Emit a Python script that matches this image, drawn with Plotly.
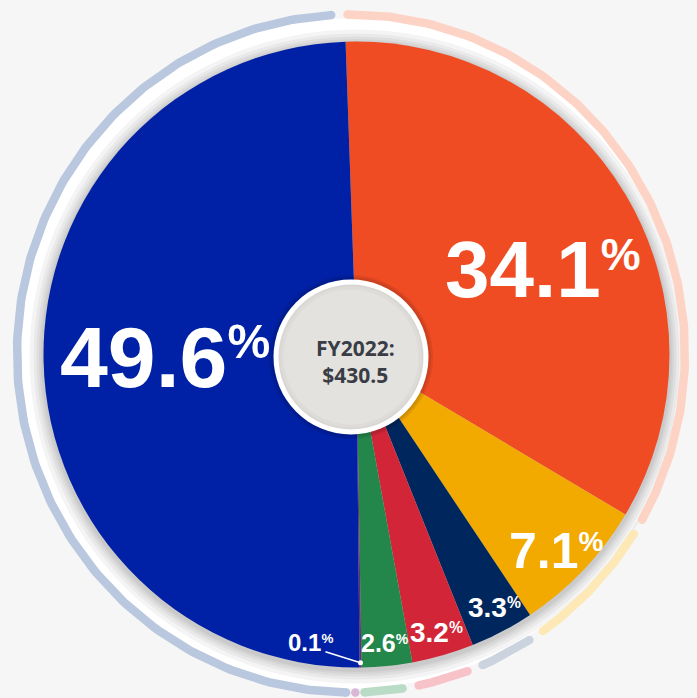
import numpy as np
import plotly.graph_objects as go

# ---------------- data ----------------
segments = ["s1", "s2", "s3", "s4", "s5", "s6", "s7"]
values = [34.1, 7.1, 3.3, 3.2, 2.6, 0.1, 49.6]
value_labels = ["34.1", "7.1", "3.3", "3.2", "2.6", "0.1", "49.6"]
center_lines = ["FY2022:", "$430.5"]

# ---------------- style ----------------
slice_colors = ["#f04c24", "#f2a900", "#00275d", "#d22638", "#23874b", "#6b2d6e", "#0021a5"]
ring_colors = ["#fdd3c5", "#fde8b6", "#cbd3df", "#f7c3c9", "#badcc6", "#d8b8d5", "#b9c8de"]
label_sizes = [80, 50, 28, 28, 25, 24, 86]
label_rfrac = [0.654, 0.895, 0.921, 0.925, 0.926, None, 0.613]
label_dang = [6, 1, -0.8, 0, 0, 0, 0.4]
LABEL_FONT = "Liberation Sans, Arial, sans-serif"

W, H = 697, 698
CX, CY, R = 356.5, 354.5, 313.0
ROT = -2.0
RCX, RCY, RX, RY = 351.0, 353.5, 334.0, 339.0
RING_W = 8.5
GAP = 1.4

total = float(sum(values))
cum = np.concatenate([[0.0], np.cumsum(values)])
a_start = ROT + 360.0 * cum[:-1] / total
a_end = ROT + 360.0 * cum[1:] / total
a_mid = (a_start + a_end) / 2.0


def pie_pt(ang, r):
    t = np.radians(ang)
    return CX + r * np.sin(t), CY - r * np.cos(t)


def ring_pt(ang):
    t = np.radians(ang)
    return RCX + RX * np.sin(t), RCY - RY * np.cos(t)


fig = go.Figure()
shapes = []

# white halo + soft shadow behind the pie
shapes.append(dict(type="circle", xref="x", yref="y", layer="below",
                   x0=RCX - RX + 4, x1=RCX + RX - 4, y0=RCY - RY + 4, y1=RCY + RY - 4,
                   fillcolor="#ffffff", line=dict(width=0)))
for dr in [14, 10, 7, 4.5, 2.5]:
    shapes.append(dict(type="circle", xref="x", yref="y", layer="below",
                       x0=CX - R - dr, x1=CX + R + dr, y0=CY + 2 - R - dr, y1=CY + 2 + R + dr,
                       fillcolor="rgba(0,0,0,0.045)", line=dict(width=0)))

# outer ring arcs derived from the slice angles
for i in range(len(values)):
    s, e = a_start[i] + GAP, a_end[i] - GAP
    if e > s:
        angs = np.linspace(s, e, 200)
        xs, ys = ring_pt(angs)
        fig.add_trace(go.Scatter(x=xs, y=ys, mode="lines", hoverinfo="skip", showlegend=False,
                                 line=dict(color=ring_colors[i], width=RING_W)))
        cx_, cy_ = ring_pt(np.array([s, e]))
    else:
        cx_, cy_ = ring_pt(np.array([a_mid[i]]))
    fig.add_trace(go.Scatter(x=cx_, y=cy_, mode="markers", hoverinfo="skip", showlegend=False,
                             marker=dict(color=ring_colors[i], size=RING_W, line=dict(width=0))))

# the pie
fig.add_trace(go.Pie(
    values=values, labels=segments, sort=False, direction="clockwise", rotation=ROT,
    marker=dict(colors=slice_colors, line=dict(width=0)),
    textinfo="none", hoverinfo="skip", showlegend=False,
    domain=dict(x=[(CX - R) / W, (CX + R) / W], y=[1 - (CY + R) / H, 1 - (CY - R) / H]),
))

# center badge
BX, BY = 351.0, 357.0
for rr, col in [(82, "rgba(0,0,0,0.08)"), (80, "rgba(0,0,0,0.08)"), (77.5, "#ffffff"),
                (72.5, "#d8d7d3"), (70.5, "#dedcd9"), (67.5, "#e3e2de")]:
    shapes.append(dict(type="circle", xref="x", yref="y", layer="above",
                       x0=BX - rr, x1=BX + rr, y0=BY - rr, y1=BY + rr,
                       fillcolor=col, line=dict(width=0)))

annotations = []
for i, lab in enumerate(value_labels):
    fs = label_sizes[i]
    txt = f"<b>{lab}<span style='font-size:{0.8*fs:.1f}px'><sup>%</sup></span></b>"
    if label_rfrac[i] is None:
        # small slice: label outside with a leader line
        px, py = pie_pt(a_mid[i], R * 0.985)
        tx, ty = px - 50, py - 20
        shapes.append(dict(type="line", xref="x", yref="y", layer="above",
                           x0=px, y0=py, x1=px - 35, y1=py - 11,
                           line=dict(color="#ffffff", width=1.5)))
        shapes.append(dict(type="circle", xref="x", yref="y", layer="above",
                           x0=px - 2.5, x1=px + 2.5, y0=py - 2.5, y1=py + 2.5,
                           fillcolor="#ffffff", line=dict(width=0)))
    else:
        tx, ty = pie_pt(a_mid[i] + label_dang[i], R * label_rfrac[i])
    annotations.append(dict(x=tx, y=ty, xref="x", yref="y", text=txt, showarrow=False,
                            xanchor="center", yanchor="middle",
                            font=dict(family=LABEL_FONT, size=fs, color="#ffffff")))

annotations.append(dict(x=355.5, y=361, xref="x", yref="y",
                        text="<br>".join(f"<b>{ln}</b>" for ln in center_lines),
                        showarrow=False, xanchor="center", yanchor="middle", align="center",
                        font=dict(family="Open Sans, Roboto, sans-serif", size=21, color="#3a3d45")))

fig.update_layout(
    width=W, height=H, margin=dict(l=0, r=0, t=0, b=0),
    paper_bgcolor="#f6f6f6", plot_bgcolor="rgba(0,0,0,0)",
    xaxis=dict(range=[0, W], visible=False, fixedrange=True),
    yaxis=dict(range=[H, 0], visible=False, fixedrange=True),
    shapes=shapes, annotations=annotations,
)

fig.write_html("out.html", config={"displayModeBar": False},
               post_script="document.body.style.margin='0';document.body.style.padding='0';"
                           "document.body.style.overflow='hidden';")
